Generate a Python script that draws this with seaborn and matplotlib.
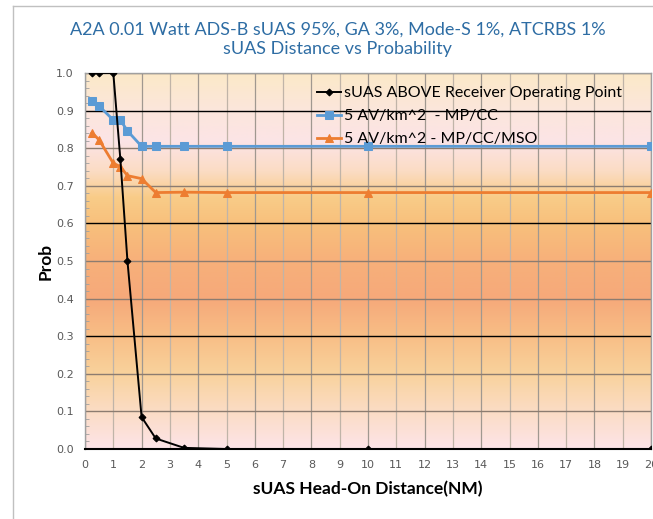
import numpy as np
import pandas as pd
import matplotlib
matplotlib.use("Agg")
import matplotlib.pyplot as plt
import seaborn as sns
from matplotlib.colors import LinearSegmentedColormap
from matplotlib.lines import Line2D

# ---- data ----
title_lines = ["A2A 0.01 Watt ADS-B sUAS 95%, GA 3%, Mode-S 1%, ATCRBS 1%",
               "sUAS Distance vs Probability"]
x_black = [0.25, 0.5, 1.0, 1.25, 1.5, 2.0, 2.5, 3.5, 5.0, 10.0, 20.0]
y_black = [1.0, 1.0, 1.0, 0.77, 0.50, 0.085, 0.028, 0.003, 0.0, 0.0, 0.0]
x_blue = [0.25, 0.5, 1.0, 1.25, 1.5, 2.0, 2.5, 3.5, 5.0, 10.0, 20.0]
y_blue = [0.926, 0.912, 0.875, 0.875, 0.846, 0.805, 0.805, 0.805, 0.805, 0.805, 0.805]
x_orange = [0.25, 0.5, 1.0, 1.25, 1.5, 2.0, 2.5, 3.5, 5.0, 10.0, 20.0]
y_orange = [0.841, 0.822, 0.760, 0.751, 0.727, 0.719, 0.682, 0.683, 0.682, 0.682, 0.682]
labels = ["sUAS ABOVE Receiver Operating Point",
          "5 AV/km^2  - MP/CC",
          "5 AV/km^2 - MP/CC/MSO"]
x_ticks = list(range(0, 21))
y_ticks = [0.0, 0.1, 0.2, 0.3, 0.4, 0.5, 0.6, 0.7, 0.8, 0.9, 1.0]

W, H = 653, 519
fig = plt.figure(figsize=(W / 100, H / 100), dpi=100)
fig.patch.set_facecolor("white")
ax = fig.add_axes([85 / W, 1 - 449 / H, (651 - 85) / W, (449 - 73) / H])

# background gradient (bottom -> top)
stops = [(0.0, "#fde4e8"), (0.10, "#fbdcc4"), (0.2, "#f9d29c"), (0.3, "#f8be86"),
         (0.4, "#f6a97a"), (0.5, "#f7b07a"), (0.6, "#f8c07c"), (0.67, "#f9cc88"),
         (0.74, "#fbdcc4"), (0.82, "#fce4e6"), (0.9, "#fce6dc"), (1.0, "#fbe9c8")]
cmap = LinearSegmentedColormap.from_list("bg", stops)
grad = np.linspace(0, 1, 256).reshape(-1, 1)
ax.imshow(grad, aspect="auto", cmap=cmap, origin="lower",
          extent=[0, 20, 0, 1], zorder=0, interpolation="bicubic")

# grid lines
for xv in x_ticks:
    ax.axvline(xv, color="#a09890" if xv % 2 == 0 else "#c0b4a8", lw=0.9, zorder=1)
for yv in y_ticks:
    dark = round(yv * 10) % 3 == 0 and yv < 1.0
    ax.axhline(yv, color="black" if dark else "#8c7c70", lw=1.0, zorder=1)

sns.lineplot(x=x_black, y=y_black, ax=ax, color="black", lw=1.4, marker="D",
             markersize=3.5, markeredgecolor="black", zorder=5, label=labels[0])
sns.lineplot(x=x_blue, y=y_blue, ax=ax, color="#5b9bd5", lw=2.0, marker="s",
             markersize=5.5, markeredgecolor="#5b9bd5", zorder=4, label=labels[1])
sns.lineplot(x=x_orange, y=y_orange, ax=ax, color="#ed7d31", lw=2.0, marker="^",
             markersize=6, markeredgecolor="#ed7d31", zorder=3, label=labels[2])

ax.set_xlim(0, 20)
ax.set_ylim(0, 1.0)
ax.set_xticks(x_ticks)
ax.set_xticklabels([str(v) for v in x_ticks])
ax.set_yticks(y_ticks)
ax.set_yticklabels([f"{v:.1f}" for v in y_ticks])
ax.set_yticks(np.arange(0, 1.0001, 0.02), minor=True)
ax.tick_params(axis="both", which="major", labelsize=8, labelcolor="#595959",
               length=0, pad=8)
ax.tick_params(axis="y", which="minor", length=3, color="#a0a0a0", direction="in")
ax.tick_params(axis="x", which="minor", length=0)
for s in ["top", "right", "left"]:
    ax.spines[s].set_color("#a0a0a0")
    ax.spines[s].set_linewidth(1.0)
ax.spines["bottom"].set_color("black")
ax.spines["bottom"].set_linewidth(1.5)
ax.set_axisbelow(False)

ax.set_xlabel("sUAS Head-On Distance(NM)", fontsize=12.5, fontweight="bold",
              family="Lato", labelpad=8)
ax.set_ylabel("Prob", fontsize=12.5, fontweight="bold", family="Lato", labelpad=2)

leg = ax.legend(loc="upper left", bbox_to_anchor=(0.385, 1.003), frameon=False,
                handlelength=1.5, handletextpad=0.15, labelspacing=0.55,
                prop={"family": "Lato", "size": 11.5})

fig.text(0.517, 1 - 30 / H, title_lines[0], ha="center", va="center",
         fontsize=13, color="#2e6da4", family="Lato")
fig.text(0.517, 1 - 49 / H, title_lines[1], ha="center", va="center",
         fontsize=13, color="#2e6da4", family="Lato")

# outer chart border (left & top)
fig.add_artist(Line2D([13 / W, 13 / W], [0, 1 - 6 / H], color="#c0c0c0", lw=1,
                      transform=fig.transFigure))
fig.add_artist(Line2D([13 / W, 1], [1 - 6 / H, 1 - 6 / H], color="#c0c0c0", lw=1,
                      transform=fig.transFigure))

fig.savefig("out.png", dpi=100)
